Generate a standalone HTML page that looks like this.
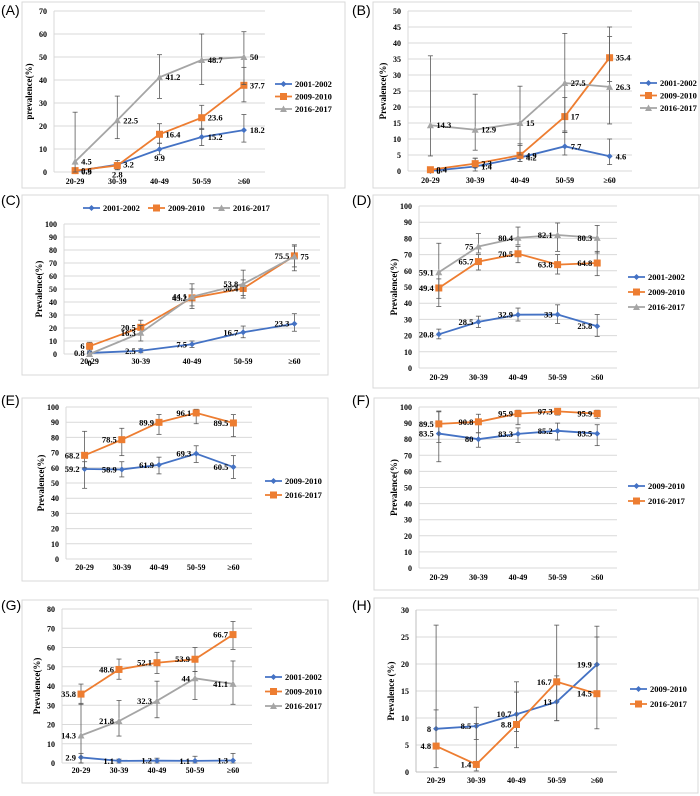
<!DOCTYPE html>
<html><head><meta charset="utf-8"><style>
body{margin:0;background:#fff;}
svg{display:block;}
</style></head><body>
<svg id="s" width="700" height="796" xmlns="http://www.w3.org/2000/svg" font-family="Liberation Serif, serif"></svg>
<script>
const S=document.getElementById('s');
const C=['#4472C4','#ED7D31','#A5A5A5'];
let out='';
function panel(p){
  // frame
  out+=`<rect x="${p.fx}" y="${p.fy}" width="${p.fw}" height="${p.fh}" fill="#fff" stroke="#d9d9d9" stroke-width="1"/>`;
  out+=`<text x="${p.lx}" y="${p.ly}" font-family="Liberation Sans, sans-serif" font-size="14" fill="#000">(${p.L})</text>`;
  const yv=v=>p.y0+(p.y1-p.y0)*v/p.max;
  const cw=(p.xr-p.xl)/5;
  const xc=i=>p.xl+cw*(i+0.5);
  for(let v=0;v<=p.max+1e-9;v+=p.step){
    const y=yv(v);
    out+=`<line x1="${p.xl}" x2="${p.xr}" y1="${y}" y2="${y}" stroke="#d9d9d9" stroke-width="1"/>`;
    out+=`<text x="${p.xl-7}" y="${y+3}" font-size="8" font-weight="bold" text-anchor="end">${+v.toFixed(0)}</text>`;
  }
  out+=`<line x1="${p.xl}" x2="${p.xl}" y1="${p.y1}" y2="${p.y0}" stroke="${p.axc||'#d9d9d9'}" stroke-width="1"/>`;
  if(p.axc) out+=`<line x1="${p.xl}" x2="${p.xr}" y1="${p.y0}" y2="${p.y0}" stroke="#bfbfbf" stroke-width="1"/>`;
  ['20-29','30-39','40-49','50-59','≥60'].forEach((t,i)=>{
    out+=`<text x="${xc(i)}" y="${p.y0+p.tly}" font-size="8" font-weight="bold" text-anchor="middle">${t}</text>`;
  });
  const yc=(p.y0+p.y1)/2;
  out+=`<text transform="translate(${p.xl-22},${yc}) rotate(-90)" font-size="9" font-weight="bold" text-anchor="middle">${p.ylab}</text>`;
  // series
  p.series.forEach(s=>{
    const col=C[s.c];
    // error bars
    s.e.forEach((e,i)=>{
      if(!e) return;
      const x=xc(i);
      out+=`<line x1="${x}" x2="${x}" y1="${yv(e[0])}" y2="${yv(e[1])}" stroke="#595959" stroke-width="0.8"/>`;
      out+=`<line x1="${x-2.5}" x2="${x+2.5}" y1="${yv(e[0])}" y2="${yv(e[0])}" stroke="#595959" stroke-width="0.8"/>`;
      out+=`<line x1="${x-2.5}" x2="${x+2.5}" y1="${yv(e[1])}" y2="${yv(e[1])}" stroke="#595959" stroke-width="0.8"/>`;
    });
    out+=`<polyline fill="none" stroke="${col}" stroke-width="1.8" points="${s.v.map((v,i)=>xc(i)+','+yv(v)).join(' ')}"/>`;
    s.v.forEach((v,i)=>{
      out+=marker(s.c,xc(i),yv(v));
    });
    s.v.forEach((v,i)=>{
      const pos=(s.pos&&s.pos[i])||s.p||'r';
      let x=xc(i),y=yv(v)+3,a='start';
      if(pos==='r'){x+=6;}
      else if(pos==='l'){x-=5;a='end';}
      else if(pos==='a'){y-=9;a='middle';}
      else if(pos==='b'){y+=9;a='middle';}
      out+=`<text x="${x}" y="${y}" font-size="8.5" font-weight="bold" text-anchor="${a}">${v}</text>`;
    });
  });
  // legend
  if(p.leg){
    p.series.forEach((s,k)=>{
      let lx,ly;
      if(p.leg.h){lx=p.leg.x[k];ly=p.leg.y;}
      else{lx=p.leg.x;ly=p.leg.y+k*p.leg.d;}
      out+=`<line x1="${lx}" x2="${lx+17}" y1="${ly}" y2="${ly}" stroke="${C[s.c]}" stroke-width="1.8"/>`;
      out+=marker(s.c,lx+8.5,ly);
      out+=`<text x="${lx+20}" y="${ly+3}" font-size="8.5" font-weight="bold">${s.n}</text>`;
    });
  }
}
function marker(c,x,y){
  const col=C[c];
  if(c===0) return `<polygon points="${x},${y-3} ${x+3},${y} ${x},${y+3} ${x-3},${y}" fill="${col}"/>`;
  if(c===1) return `<rect x="${x-3.5}" y="${y-3.5}" width="7" height="7" fill="${col}"/>`;
  return `<polygon points="${x},${y-3.5} ${x+3.5},${y+3} ${x-3.5},${y+3}" fill="${col}"/>`;
}
const N3=['2001-2002','2009-2010','2016-2017'];
// A
panel({L:'A',lx:1,ly:15,fx:22,fy:2,fw:323,fh:186,xl:54,xr:265,y0:172,y1:11,max:70,step:10,tly:12,ylab:'prevalence(%)',
 leg:{x:275,y:84,d:12.5},
 series:[
  {c:0,n:N3[0],v:[0.3,3.2,9.9,15.2,18.2],e:[null,[1,5],[7.5,12.5],[11.5,19],[13,25]],pos:['r','r','b','r','r']},
  {c:1,n:N3[1],v:[0.6,2.8,16.4,23.6,37.7],e:[null,[1,4],[12.5,21],[18.5,29],[30.5,45.5]],pos:['r','b','r','r','r']},
  {c:2,n:N3[2],v:[4.5,22.5,41.2,48.7,50],e:[[0,26],[14.5,33],[32,51],[38,60],[38,61]]}
 ]});
// B
panel({L:'B',lx:352,ly:15,fx:373,fy:2,fw:326,fh:186,xl:408,xr:632,y0:171,y1:11,max:50,step:5,tly:12,ylab:'Prevalence(%)',
 leg:{x:640,y:83,d:12.5},
 series:[
  {c:0,n:N3[0],v:[0,1.4,4.2,7.7,4.6],e:[null,[0,4],[3,8],[5,12],[2,10]],pos:['r','r','r','r','r']},
  {c:1,n:N3[1],v:[0.4,2.3,4.9,17,35.4],e:[[0,1],[1,4],[3,8.5],[12,23],[28,42]]},
  {c:2,n:N3[2],v:[14.3,12.9,15,27.5,26.3],e:[[4.7,36],[6.5,24],[5,26.5],[12.5,43],[14.7,45]]}
 ]});
// C
panel({L:'C',lx:1,ly:205,fx:22,fy:195,fw:306,fh:180,xl:64,xr:320,y0:354,y1:224,max:100,step:10,tly:10,ylab:'Prevalence(%)',
 leg:{h:1,x:[83,148,213],y:208},
 series:[
  {c:0,n:N3[0],v:[0.8,2.5,7.5,16.7,23.3],e:[[0,2],[1,4],[5,10],[12.5,21.5],[17.5,31]],p:'l'},
  {c:1,n:N3[1],v:[6,20.5,43.2,50.4,75.5],e:[[3,9],[15,26],[35,50],[43,57],[67,83]],p:'l'},
  {c:2,n:N3[2],v:[0,16.3,44.1,53.8,75],e:[[0,1],[10,22],[37,54],[45,64.5],[64,84]],pos:['b','l','l','l','r']}
 ]});
// D
panel({L:'D',lx:352,ly:205,fx:373,fy:195,fw:326,fh:193,xl:419,xr:617,y0:368,y1:206,max:100,step:10,tly:12,ylab:'Prevalence(%)',
 leg:{x:628,y:277,d:15},
 series:[
  {c:0,n:N3[0],v:[20.8,28.5,32.9,33,25.8],e:[[18,24],[25,32],[29,37],[27.5,39],[19.5,33]],p:'l'},
  {c:1,n:N3[1],v:[49.4,65.7,70.5,63.8,64.8],e:[[38,55],[60.5,70],[65,75],[58,70],[57,72]],p:'l'},
  {c:2,n:N3[2],v:[59.1,75,80.4,82.1,80.3],e:[[43,77],[71,83],[76,87],[72,89.5],[71,88]],p:'l'}
 ]});
// E
panel({L:'E',lx:1,ly:405,fx:22,fy:398,fw:306,fh:183,xl:66,xr:252,y0:559,y1:407,max:100,step:10,tly:11,ylab:'Prevalence(%)',
 leg:{x:265,y:481,d:14},
 series:[
  {c:0,n:'2009-2010',v:[59.2,58.9,61.9,69.3,60.5],e:[[46.5,64],[54,64],[56,67],[63.5,74.5],[53,68]],p:'l'},
  {c:1,n:'2016-2017',v:[68.2,78.5,89.9,96.1,89.5],e:[[60,84],[68,86],[82,95],[89,98.5],[80.5,95]],p:'l'}
 ]});
// F
panel({L:'F',lx:352,ly:405,fx:374,fy:398,fw:325,fh:192,xl:419,xr:617,y0:568,y1:407,max:100,step:10,tly:12,ylab:'Prevalence(%)',
 leg:{x:628,y:486,d:15},
 series:[
  {c:0,n:'2009-2010',v:[83.5,80,83.3,85.2,83.5],e:[[66,97],[75,84],[78,87],[79.5,90],[76,89]],p:'l'},
  {c:1,n:'2016-2017',v:[89.5,90.8,95.9,97.3,95.9],e:[[78,97.5],[84,95.5],[89,98],[95,99],[93,98]],p:'l'}
 ]});
// G
panel({L:'G',lx:1,ly:610,fx:22,fy:600,fw:306,fh:183,xl:62,xr:252,y0:763,y1:609,max:80,step:10,tly:10,ylab:'Prevalence(%)',
 leg:{x:265,y:677,d:14.5},
 series:[
  {c:0,n:N3[0],v:[2.9,1.1,1.2,1.1,1.3],e:[[0,5],[0,2],[0,2.5],[0,3.5],[0,5]],p:'l'},
  {c:1,n:N3[1],v:[35.8,48.6,52.1,53.9,66.7],e:[[30.5,41],[43.5,54],[46.5,57.5],[47.5,60],[59,73.5]],p:'l'},
  {c:2,n:N3[2],v:[14.3,21.8,32.3,44,41.1],e:[[0,31],[14,32.5],[23.5,42.5],[33,47.5],[30.5,53]],p:'l'}
 ]});
// H
panel({L:'H',lx:352,ly:610,fx:374,fy:598,fw:324,fh:195,xl:416,xr:617,y0:772,y1:610,max:30,step:5,tly:11,ylab:'Prevalence (%)',axc:'#bfbfbf',
 leg:{x:630,y:689,d:15},
 series:[
  {c:0,n:'2009-2010',v:[8,8.5,10.7,13,19.9],e:[[4.5,11.5],[6,12],[7.5,14.8],[9.5,17.8],[14.5,25]],p:'l'},
  {c:1,n:'2016-2017',v:[4.8,1.4,8.8,16.7,14.5],e:[[0.8,27.2],[0.2,9],[4.5,16.7],[9.5,27.2],[8,27]],p:'l'}
 ]});
S.innerHTML=out;
</script>
</body></html>
